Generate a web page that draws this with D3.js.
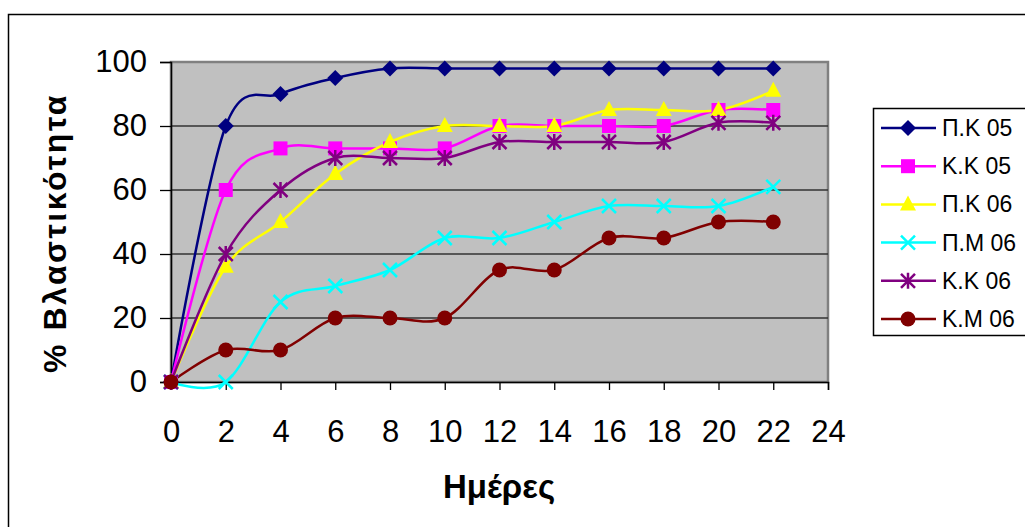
<!DOCTYPE html>
<html>
<head>
<meta charset="utf-8">
<script src="https://cdn.jsdelivr.net/npm/d3@7.9.0/dist/d3.min.js"></script>
<style>
  html, body { margin: 0; padding: 0; background: #fff; }
  svg { display: block; font-family: "Liberation Sans", Arial, sans-serif; }
</style>
</head>
<body>
<div id="chart"></div>
<script>
// data
const days = [0, 2, 4, 6, 8, 10, 12, 14, 16, 18, 20, 22];
const seriesNames = ["Π.Κ 05", "Κ.Κ 05", "Π.Κ 06", "Π.Μ 06", "Κ.Κ 06", "Κ.Μ 06"];
const pk05 = [0, 80, 90, 95, 98, 98, 98, 98, 98, 98, 98, 98];
const kk05 = [0, 60, 73, 73, 73, 73, 80, 80, 80, 80, 85, 85];
const pk06 = [0, 36, 50, 65, 75, 80, 80, 80, 85, 85, 85, 91];
const pm06 = [0, 0, 25, 30, 35, 45, 45, 50, 55, 55, 55, 61];
const kk06 = [0, 40, 60, 70, 70, 70, 75, 75, 75, 75, 81, 81];
const km06 = [0, 10, 10, 20, 20, 20, 35, 35, 45, 45, 50, 50];
const xTicks = [0, 2, 4, 6, 8, 10, 12, 14, 16, 18, 20, 22, 24];
const yTicks = [0, 20, 40, 60, 80, 100];

const series = [
    {name: seriesNames[0], values: pk05, color: "#000080", marker: "diamond"},
    {name: seriesNames[1], values: kk05, color: "#FF00FF", marker: "square"},
    {name: seriesNames[2], values: pk06, color: "#FFFF00", marker: "triangle"},
    {name: seriesNames[3], values: pm06, color: "#00FFFF", marker: "x"},
    {name: seriesNames[4], values: kk06, color: "#800080", marker: "star"},
    {name: seriesNames[5], values: km06, color: "#800000", marker: "circle"}
];

const W = 1025, H = 527;
const plot = {left: 171, top: 62, right: 828, bottom: 382};

const svg = d3.select("#chart").append("svg")
    .attr("width", W)
    .attr("height", H);

// outer frame (runs off the page right and bottom)
svg.append("rect")
    .attr("x", 8.5).attr("y", 14.5)
    .attr("width", 1040).attr("height", 540)
    .attr("fill", "#fff")
    .attr("stroke", "#000")
    .attr("stroke-width", 1.5);

const x = d3.scaleLinear().domain([0, 24]).range([plot.left, plot.right]);
const y = d3.scaleLinear().domain([0, 100]).range([plot.bottom, plot.top]);

// plot area
svg.append("rect")
    .attr("x", plot.left).attr("y", plot.top)
    .attr("width", plot.right - plot.left)
    .attr("height", plot.bottom - plot.top)
    .attr("fill", "#C0C0C0")
    .attr("stroke", "#808080")
    .attr("stroke-width", 2.5);

// gridlines
svg.append("g")
    .selectAll("line")
    .data(yTicks.filter(d => d > 0 && d < 100))
    .join("line")
    .attr("x1", plot.left).attr("x2", plot.right)
    .attr("y1", d => y(d)).attr("y2", d => y(d))
    .attr("stroke", "#333")
    .attr("stroke-width", 1.3);

// axes
const yAxis = svg.append("g")
    .attr("transform", `translate(${plot.left},0)`)
    .call(d3.axisLeft(y).tickValues(yTicks).tickSize(11).tickPadding(13));
const xAxis = svg.append("g")
    .attr("transform", `translate(0,${plot.bottom})`)
    .call(d3.axisBottom(x).tickValues(xTicks).tickSize(8).tickPadding(30));

[yAxis, xAxis].forEach(g => {
    g.select(".domain").attr("stroke", "#000").attr("stroke-width", 1.5);
    g.selectAll(".tick line").attr("stroke", "#000").attr("stroke-width", 1.3);
    g.selectAll(".tick text")
        .attr("font-family", "Liberation Sans, Arial, sans-serif")
        .attr("font-size", 31)
        .attr("fill", "#000");
});

// axis titles
svg.append("text")
    .attr("transform", `translate(66,233) rotate(-90)`)
    .attr("text-anchor", "middle")
    .attr("font-size", 32)
    .attr("letter-spacing", 2.5)
    .attr("font-weight", "bold")
    .text("% Βλαστικότητα");

svg.append("text")
    .attr("x", 499)
    .attr("y", 498)
    .attr("text-anchor", "middle")
    .attr("font-size", 33)
    .attr("font-weight", "bold")
    .text("Ημέρες");

// markers
function drawMarker(g, type, color) {
    if (type === "diamond") {
        g.append("path").attr("d", "M0,-8L8,0L0,8L-8,0Z").attr("fill", color);
    } else if (type === "square") {
        g.append("rect").attr("x", -7).attr("y", -7).attr("width", 14).attr("height", 14).attr("fill", color);
    } else if (type === "triangle") {
        g.append("path").attr("d", "M0,-9L8,6L-8,6Z").attr("fill", color);
    } else if (type === "x") {
        g.append("path").attr("d", "M-7,-7L7,7M-7,7L7,-7")
            .attr("stroke", color).attr("stroke-width", 2.5).attr("fill", "none");
    } else if (type === "star") {
        g.append("path").attr("d", "M-7,-7L7,7M-7,7L7,-7M0,-8L0,8")
            .attr("stroke", color).attr("stroke-width", 2.5).attr("fill", "none");
    } else if (type === "circle") {
        g.append("circle").attr("r", 7.5).attr("fill", color);
    }
}

const line = d3.line()
    .x((d, i) => x(days[i]))
    .y(d => y(d))
    .curve(d3.curveCardinal.tension(0));

series.forEach(s => {
    svg.append("path")
        .datum(s.values)
        .attr("fill", "none")
        .attr("stroke", s.color)
        .attr("stroke-width", 2.5)
        .attr("d", line);
});
series.forEach(s => {
    s.values.forEach((v, i) => {
        const g = svg.append("g").attr("transform", `translate(${x(days[i])},${y(v)})`);
        drawMarker(g, s.marker, s.color);
    });
});

// legend
const legend = svg.append("g").attr("transform", "translate(873,108)");
legend.append("rect")
    .attr("x", 0.5).attr("y", 0.5)
    .attr("width", 200).attr("height", 227)
    .attr("fill", "#fff")
    .attr("stroke", "#000")
    .attr("stroke-width", 1.5);

series.forEach((s, i) => {
    const row = legend.append("g").attr("transform", `translate(0,${20 + i * 38.2})`);
    row.append("line")
        .attr("x1", 8).attr("x2", 63)
        .attr("stroke", s.color).attr("stroke-width", 2.5);
    drawMarker(row.append("g").attr("transform", "translate(35,0)"), s.marker, s.color);
    row.append("text")
        .attr("x", 69).attr("y", 8)
        .attr("font-size", 23)
        .text(s.name);
});
</script>
</body>
</html>
